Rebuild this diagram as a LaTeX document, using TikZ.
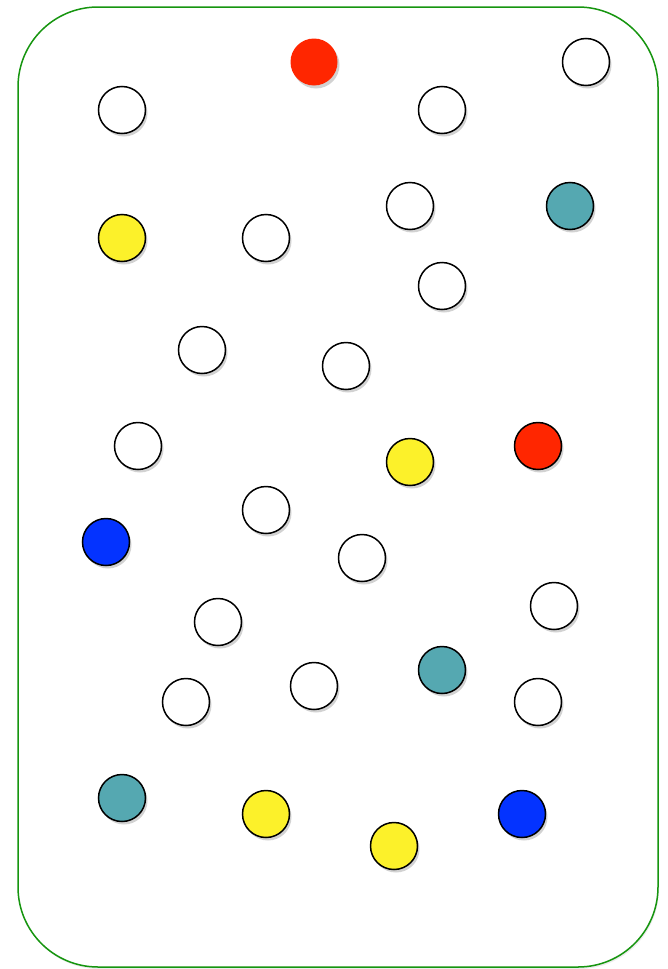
\documentclass[tikz,border=0pt]{standalone}
\usetikzlibrary{shadows}
\definecolor{cred}{HTML}{FF2600}
\definecolor{cteal}{HTML}{55A8B1}
\definecolor{cyel}{HTML}{FCF12A}
\definecolor{cblue}{HTML}{0433FF}
\definecolor{cgreen}{HTML}{16950F}
\tikzset{
  dot/.style={circle, draw=black, line width=1.5pt, minimum size=47pt, inner sep=0pt,
    drop shadow={opacity=0.35, shadow xshift=2pt, shadow yshift=-3pt}},
  wdot/.style={dot, fill=white},
  rdot/.style={dot, fill=cred},
  tdot/.style={dot, fill=cteal},
  ydot/.style={dot, fill=cyel},
  bdot/.style={dot, fill=cblue},
  box/.style={draw=cgreen, line width=1.5pt, rounded corners=80pt, fill=white,
    drop shadow={opacity=0.15, shadow xshift=1pt, shadow yshift=-2pt}}
}
\begin{document}
\begin{tikzpicture}[x=1pt,y=-1pt]
\useasboundingbox (0,0) rectangle (668,969);
\path[box] (18,7) rectangle (658,967);
\node[dot, draw=none, fill=cred] (n1) at (314,62) {};
\node[wdot] (n2) at (586,62) {};
\node[wdot] (n3) at (122,110) {};
\node[wdot] (n4) at (442,110) {};
\node[wdot] (n5) at (410,206) {};
\node[tdot] (n6) at (570,206) {};
\node[ydot] (n7) at (122,238) {};
\node[wdot] (n8) at (266,238) {};
\node[wdot] (n9) at (442,286) {};
\node[wdot] (n10) at (202,350) {};
\node[wdot] (n11) at (346,366) {};
\node[wdot] (n12) at (138,446) {};
\node[ydot] (n13) at (410,462) {};
\node[rdot] (n14) at (538,446) {};
\node[wdot] (n15) at (266,510) {};
\node[bdot] (n16) at (106,542) {};
\node[wdot] (n17) at (362,558) {};
\node[wdot] (n18) at (554,606) {};
\node[wdot] (n19) at (218,622) {};
\node[tdot] (n20) at (442,670) {};
\node[wdot] (n21) at (186,702) {};
\node[wdot] (n22) at (314,686) {};
\node[wdot] (n23) at (538,702) {};
\node[tdot] (n24) at (122,798) {};
\node[ydot] (n25) at (266,814) {};
\node[bdot] (n26) at (522,814) {};
\node[ydot] (n27) at (394,846) {};
\end{tikzpicture}
\end{document}
